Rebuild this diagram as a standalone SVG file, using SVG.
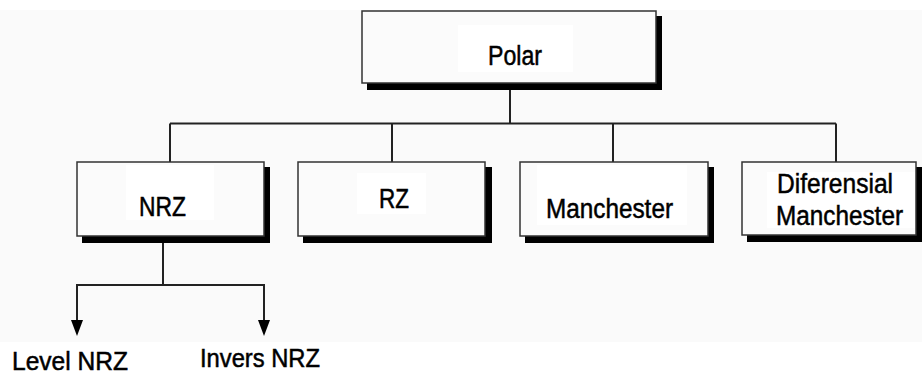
<svg xmlns="http://www.w3.org/2000/svg" width="922" height="378" viewBox="0 0 922 378">
<style>
.shadow{fill:#000}
.box{fill:#fbfbfb;stroke:#333;stroke-width:1.5}
.hl{fill:#fff}
.lbl{font-family:"Liberation Sans",Arial,sans-serif;font-size:27px;fill:#000;stroke:#000;stroke-width:0.5}
.sub{font-family:"Liberation Sans",Arial,sans-serif;font-size:25px;fill:#000;stroke:#000;stroke-width:0.5}
.con{fill:none;stroke:#222;stroke-width:2}
.head{fill:#000}
</style>
<rect x="0" y="0" width="922" height="378" fill="#fff"/>
<rect x="0" y="10" width="922" height="332" fill="#fafafa"/>
<g id="connectors">
<path class="con" d="M510,88 V123.5"/>
<path class="con" d="M170,123.5 H836"/>
<path class="con" d="M170,123.5 V162 M392,123.5 V162 M613,123.5 V162 M836,123.5 V162"/>
<path class="con" d="M163,241 V285 M77,285 H264"/>
<path class="con" d="M77,284 V322"/>
<path class="con" d="M264,284 V322"/>
<polygon class="head" points="71,320 83,320 77,336"/>
<polygon class="head" points="258,320 270,320 264,336"/>
</g>
<g id="polar">
<rect class="shadow" x="367" y="16" width="295" height="74"/>
<rect class="box" x="362" y="11" width="294" height="72"/>
<rect class="hl" x="458" y="25" width="115" height="47"/>
<text class="lbl" x="488" y="65" textLength="54" lengthAdjust="spacingAndGlyphs">Polar</text>
</g>
<g id="nrz">
<rect class="shadow" x="82" y="167" width="188" height="76"/>
<rect class="box" x="77" y="162" width="187" height="74"/>
<rect class="hl" x="126" y="165" width="88" height="55"/>
<text class="lbl" x="139" y="216" textLength="47" lengthAdjust="spacingAndGlyphs">NRZ</text>
</g>
<g id="rz">
<rect class="shadow" x="303" y="167" width="189" height="76"/>
<rect class="box" x="298" y="162" width="187" height="74"/>
<rect class="hl" x="357" y="173" width="69" height="41"/>
<text class="lbl" x="379" y="208" textLength="30" lengthAdjust="spacingAndGlyphs">RZ</text>
</g>
<g id="manchester">
<rect class="shadow" x="525" y="167" width="189" height="76"/>
<rect class="box" x="520" y="162" width="188" height="74"/>
<rect class="hl" x="537" y="165" width="150" height="60"/>
<text class="lbl" x="546" y="218" textLength="127" lengthAdjust="spacingAndGlyphs">Manchester</text>
</g>
<g id="diferensial-manchester">
<rect class="shadow" x="747" y="167" width="175" height="75"/>
<rect class="box" x="742" y="162" width="174" height="73"/>
<rect class="hl" x="767" y="172" width="148" height="56"/>
<text class="lbl" x="777" y="193" textLength="116" lengthAdjust="spacingAndGlyphs">Diferensial</text>
<text class="lbl" x="776" y="225" textLength="127" lengthAdjust="spacingAndGlyphs">Manchester</text>
</g>
<g id="level-nrz">
<text class="sub" x="12" y="370" textLength="116" lengthAdjust="spacingAndGlyphs">Level NRZ</text>
</g>
<g id="invers-nrz">
<text class="sub" x="200" y="367" textLength="120" lengthAdjust="spacingAndGlyphs">Invers NRZ</text>
</g>
</svg>
